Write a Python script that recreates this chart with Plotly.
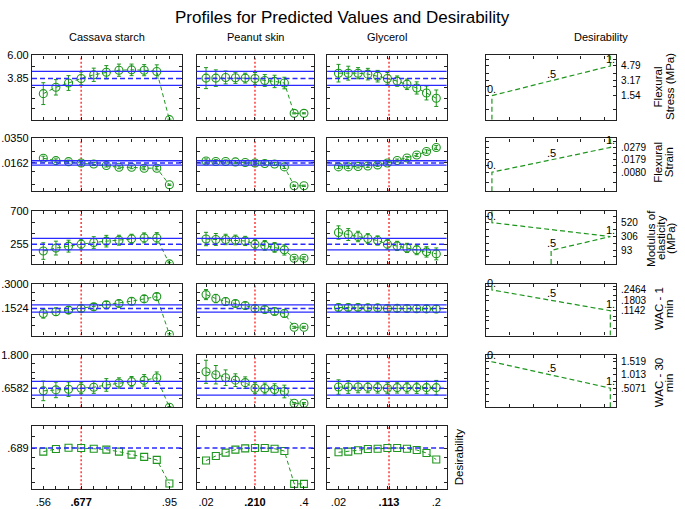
import plotly.graph_objects as go

W, H = 685, 509

# ---------------- data ----------------
factor_names = ["Cassava starch", "Peanut skin", "Glycerol"]
current = [0.677, 0.210, 0.113]
current_text = [".677", ".210", ".113"]
cassava_x = [0.56, 0.599, 0.638, 0.677, 0.716, 0.755, 0.794, 0.833, 0.872, 0.911, 0.95]
peanut_x = [0.02, 0.058, 0.096, 0.134, 0.172, 0.21, 0.248, 0.286, 0.324, 0.362, 0.40]
glycerol_x = [0.02, 0.038, 0.056, 0.074, 0.092, 0.11, 0.128, 0.146, 0.164, 0.182, 0.20]
xgrid = [cassava_x, peanut_x, glycerol_x]
x_lo_text = [".56", ".02", ".02"]
x_hi_text = [".95", ".4", ".2"]

# Flexural stress (MPa)
fs_cassava = [2.43, 3.02, 3.42, 3.85, 4.19, 4.43, 4.62, 4.65, 4.62, 4.50, 0.0]
fs_cassava_err = [1.02, 0.72, 0.69, 0.60, 0.62, 0.62, 0.57, 0.54, 0.52, 0.62, 0.05]
fs_peanut = [3.88, 3.88, 3.94, 3.91, 3.88, 3.85, 3.66, 3.57, 3.42, 0.59, 0.59]
fs_peanut_err = [0.98, 0.77, 0.60, 0.52, 0.46, 0.55, 0.55, 0.58, 0.54, 0.05, 0.05]
fs_glycerol = [4.34, 4.34, 4.34, 4.25, 4.06, 3.85, 3.60, 3.30, 2.96, 2.49, 2.00]
fs_glycerol_err = [0.82, 0.65, 0.52, 0.54, 0.54, 0.55, 0.48, 0.49, 0.57, 0.65, 0.77]

# Flexural strain
st_cassava = [0.0198, 0.0180, 0.0172, 0.0162, 0.0154, 0.0142, 0.0129, 0.0129, 0.0122, 0.0122, -0.0005]
st_cassava_err = [0.0016, 0.0013, 0.0012, 0.0011, 0.0011, 0.0011, 0.0011, 0.0011, 0.0012, 0.0013, 0.0005]
st_peanut = [0.0177, 0.0173, 0.0173, 0.0170, 0.0166, 0.0162, 0.0158, 0.0154, 0.0132, -0.0013, -0.0013]
st_peanut_err = [0.0016, 0.0014, 0.0012, 0.0011, 0.0011, 0.0011, 0.0011, 0.0011, 0.0012, 0.0005, 0.0005]
st_glycerol = [0.0132, 0.0132, 0.0135, 0.0139, 0.0147, 0.0162, 0.0181, 0.0200, 0.0223, 0.0250, 0.0280]
st_glycerol_err = [0.0013, 0.0012, 0.0011, 0.0011, 0.0011, 0.0011, 0.0011, 0.0011, 0.0012, 0.0013, 0.0015]

# Modulus of elasticity (MPa)
me_cassava = [162, 202, 228, 255, 277, 295, 308, 326, 339, 339, -10]
me_cassava_err = [111, 93, 80, 67, 78, 78, 67, 62, 67, 71, 15]
me_peanut = [324, 318, 318, 311, 298, 255, 238, 211, 178, 65, 65]
me_peanut_err = [90, 80, 70, 65, 62, 67, 65, 65, 70, 20, 20]
me_glycerol = [411, 384, 358, 331, 304, 255, 231, 204, 178, 151, 124]
me_glycerol_err = [90, 80, 70, 65, 62, 67, 62, 62, 65, 70, 80]

# WAC - 1 min
w1_cassava = [0.1229, 0.1327, 0.1426, 0.1524, 0.1622, 0.1741, 0.1819, 0.1957, 0.2095, 0.2232, -0.003]
w1_cassava_err = [0.028, 0.022, 0.020, 0.020, 0.020, 0.020, 0.020, 0.020, 0.020, 0.021, 0.005]
w1_peanut = [0.235, 0.2114, 0.1937, 0.1819, 0.170, 0.1524, 0.1465, 0.1347, 0.1229, 0.0402, 0.0402]
w1_peanut_err = [0.030, 0.025, 0.022, 0.020, 0.020, 0.020, 0.020, 0.020, 0.022, 0.006, 0.006]
w1_glycerol = [0.158, 0.158, 0.158, 0.157, 0.156, 0.1524, 0.153, 0.152, 0.151, 0.150, 0.149]
w1_glycerol_err = [0.021, 0.020, 0.020, 0.020, 0.020, 0.020, 0.020, 0.020, 0.020, 0.020, 0.021]

# WAC - 30 min
w30_cassava = [0.567, 0.601, 0.624, 0.658, 0.692, 0.772, 0.840, 0.886, 0.932, 1.023, -0.003]
w30_cassava_err = [0.34, 0.27, 0.25, 0.19, 0.21, 0.22, 0.18, 0.18, 0.20, 0.20, 0.03]
w30_peanut = [1.229, 1.127, 1.024, 0.939, 0.853, 0.658, 0.648, 0.614, 0.545, 0.135, 0.135]
w30_peanut_err = [0.40, 0.32, 0.27, 0.22, 0.20, 0.19, 0.19, 0.20, 0.22, 0.03, 0.03]
w30_glycerol = [0.70, 0.70, 0.70, 0.69, 0.68, 0.658, 0.68, 0.68, 0.68, 0.68, 0.68]
w30_glycerol_err = [0.25, 0.22, 0.20, 0.19, 0.19, 0.19, 0.19, 0.19, 0.20, 0.22, 0.25]

# Desirability
d_cassava = [0.638, 0.675, 0.693, 0.689, 0.679, 0.666, 0.638, 0.596, 0.564, 0.522, 0.187]
d_peanut = [0.512, 0.577, 0.624, 0.666, 0.684, 0.689, 0.689, 0.679, 0.647, 0.183, 0.183]
d_glycerol = [0.629, 0.638, 0.657, 0.675, 0.679, 0.689, 0.689, 0.679, 0.661, 0.619, 0.526]

profiles = [
    [fs_cassava, fs_peanut, fs_glycerol],
    [st_cassava, st_peanut, st_glycerol],
    [me_cassava, me_peanut, me_glycerol],
    [w1_cassava, w1_peanut, w1_glycerol],
    [w30_cassava, w30_peanut, w30_glycerol],
    [d_cassava, d_peanut, d_glycerol],
]
profile_err = [
    [fs_cassava_err, fs_peanut_err, fs_glycerol_err],
    [st_cassava_err, st_peanut_err, st_glycerol_err],
    [me_cassava_err, me_peanut_err, me_glycerol_err],
    [w1_cassava_err, w1_peanut_err, w1_glycerol_err],
    [w30_cassava_err, w30_peanut_err, w30_glycerol_err],
    None,
]

pred = [3.85, 0.0162, 255, 0.1524, 0.6582, 0.689]
pred_text = ["3.85", ".0162", "255", ".1524", ".6582", ".689"]
ci_half = [0.65, 0.0017, 78, 0.022, 0.24]
top_val = [6.0, 0.035, 700, 0.300, 1.8]
top_text = ["6.00", ".0350", "700", ".3000", "1.800"]
minor_y = [[1, 2, 3, 5], [0.0, 0.01, 0.025], [100, 400, 550], [0.05, 0.1, 0.2, 0.25], [0.3, 1.0, 1.2, 1.5],
           [0.2, 0.4, 0.55, 0.85]]

# desirability functions (response value -> desirability)
des_vals = [[1.54, 3.17, 4.79], [0.0080, 0.0179, 0.0279], [520, 306, 93],
            [0.2464, 0.1803, 0.1142], [1.519, 1.013, 0.5071]]
des_text = [["1.54", "3.17", "4.79"], [".0080", ".0179", ".0279"], ["520", "306", "93"],
            [".2464", ".1803", ".1142"], ["1.519", "1.013", ".5071"]]
des_d = [[0, 0.5, 1], [0, 0.5, 1], [0, 1, 0.5], [0, 0.5, 1], [0, 0.5, 1]]
des_minor = [[0, 2.5, 4.0, 5.5], [0.0, 0.013, 0.023, 0.033], [0, 200, 420, 620],
             [0.0, 0.05, 0.08, 0.21, 0.27], [0.0, 0.25, 0.75, 1.27, 1.65]]

resp_lines = [["Flexural", "Stress (MPa)"], ["Flexural", "Strain"], ["Modulus of", "elasticity", "(MPa)"],
              ["WAC - 1", "min"], ["WAC - 30", "min"], ["Desirability"]]

# ---------------- layout geometry (pixels) ----------------
col_px = [(32, 182), (196.5, 314), (327.1, 446.6)]
des_px = (486, 616)
row_px = [(50, 115), (134, 187.5), (207.5, 261), (281, 333.5), (353.5, 406), (425, 489)]
xranges = [(0.525, 0.989), (-0.017, 0.439), (-0.001, 0.219)]
yranges = [(0, 6.0), (-0.0055, 0.035), (-11, 700), (-0.009, 0.300), (0, 1.8), (0.107, 1.0)]
des_xrange = (-0.05, 1.048)
des_yranges = [(-1.09, 5.95), (-0.0073, 0.0351), (-115, 698), (-0.044, 0.286), (-0.224, 1.765)]
resp_label_px = [([657.7, 669.3], 81.7), ([657.7, 669.0], 158), ([651.7, 661.7, 671.7], 235),
                 ([659, 669], 306.7), ([659, 669], 381.7), ([459], 456.7)]


def xd(a, b):
    return [a / W, b / W]


def yd(t, b):
    return [1 - b / H, 1 - t / H]


GREEN = "#1e961e"
BLUE = "#2a2aff"
RED = "#ff1a1a"
FONT = "Liberation Sans, Arial, sans-serif"

fig = go.Figure()
layout = {}
shapes = []
annotations = []

axis_common = dict(showline=True, linecolor="#222222", linewidth=1.2, mirror="allticks",
                   ticks="inside", ticklen=3, tickcolor="#222222", tickwidth=1,
                   showgrid=False, zeroline=False, fixedrange=True,
                   tickfont=dict(family=FONT, size=11, color="black"))

k = 0
for r in range(6):
    for c in range(3):
        k += 1
        xa = "x" if k == 1 else f"x{k}"
        ya = "y" if k == 1 else f"y{k}"
        xg = xgrid[c]
        xt, xtt = [], []
        for i, v in enumerate(xg):
            if abs(v - current[c]) < 1e-6:
                continue
            xt.append(v)
            lab = ""
            if r == 5 and i == 0:
                lab = x_lo_text[c]
            elif r == 5 and i == len(xg) - 1:
                lab = x_hi_text[c]
            xtt.append(lab)
        xt.append(current[c])
        xtt.append(f"<b>{current_text[c]}</b>" if r == 5 else "")
        layout[f"xaxis{k}"] = dict(axis_common, domain=xd(*col_px[c]), range=list(xranges[c]),
                                   anchor=ya, tickmode="array", tickvals=xt, ticktext=xtt,
                                   showticklabels=(r == 5), ticklabelstandoff=2)
        yt = list(minor_y[r]) + [pred[r]]
        ytt = [""] * len(minor_y[r]) + [pred_text[r]]
        if r < 5:
            yt.append(top_val[r])
            ytt.append(top_text[r])
        layout[f"yaxis{k}"] = dict(axis_common, domain=yd(*row_px[r]), range=list(yranges[r]),
                                   anchor=xa, tickmode="array", tickvals=yt, ticktext=ytt,
                                   showticklabels=(c == 0))
        xdom = f"{xa} domain"
        if r < 5:
            for v in (pred[r] - ci_half[r], pred[r] + ci_half[r]):
                shapes.append(dict(type="line", xref=xdom, yref=ya, x0=0, x1=1, y0=v, y1=v,
                                   line=dict(color=BLUE, width=1.3)))
        shapes.append(dict(type="line", xref=xdom, yref=ya, x0=0, x1=1, y0=pred[r], y1=pred[r],
                           line=dict(color=BLUE, width=1.5, dash="5px,3px")))
        # red current-value line as a trace
        fig.add_trace(go.Scatter(x=[current[c], current[c]], y=list(yranges[r]), xaxis=xa, yaxis=ya,
                                 mode="lines", line=dict(color=RED, width=1.3, dash="2px,2px"),
                                 showlegend=False, hoverinfo="skip"))
        err = profile_err[r]
        tr = dict(x=xg, y=profiles[r][c], xaxis=xa, yaxis=ya, mode="lines+markers",
                  line=dict(color=GREEN, width=1, dash="4px,3px"),
                  marker=dict(symbol="square-open" if r == 5 else "circle-open", size=7 if r == 5 else 8,
                              color=GREEN, line=dict(width=1.1, color=GREEN)),
                  showlegend=False, hoverinfo="skip")
        if err is not None:
            tr["error_y"] = dict(type="data", array=err[c], visible=True, color=GREEN,
                                 thickness=1, width=2)
        fig.add_trace(go.Scatter(**tr))

# desirability panels
for r in range(5):
    k += 1
    xa = f"x{k}"
    ya = f"y{k}"
    lo, hi = des_yranges[r]
    yt = list(des_minor[r]) + list(des_vals[r])
    ytt = [""] * len(des_minor[r]) + list(des_text[r])
    layout[f"xaxis{k}"] = dict(axis_common, domain=xd(*des_px), range=list(des_xrange), anchor=ya,
                               tickmode="linear", tick0=0.15, dtick=0.2, showticklabels=False)
    layout[f"yaxis{k}"] = dict(axis_common, domain=yd(*row_px[r]), range=[lo, hi], anchor=xa,
                               side="right", tickmode="array", tickvals=yt, ticktext=ytt,
                               showticklabels=True, ticklabelstandoff=2,
                               tickfont=dict(family=FONT, size=10, color="black"))
    pts = sorted(zip(des_vals[r], des_d[r]))
    ys = [lo] + [p[0] for p in pts] + [hi]
    ds = [pts[0][1]] + [p[1] for p in pts] + [pts[-1][1]]
    fig.add_trace(go.Scatter(x=ds, y=ys, xaxis=xa, yaxis=ya, mode="lines",
                             line=dict(color=GREEN, width=1.2, dash="5px,3px"),
                             showlegend=False, hoverinfo="skip"))
    for v, d in zip(des_vals[r], des_d[r]):
        txt = "0." if d == 0 else ("1." if d == 1 else ".5")
        annotations.append(dict(x=d, y=v, xref=xa, yref=ya, text=txt, showarrow=False,
                                xanchor="center", yanchor="middle", yshift=7,
                                font=dict(family=FONT, size=11, color="black")))

# titles
annotations.append(dict(x=342 / W, y=1 - 12 / H, xref="paper", yref="paper",
                        text="Profiles for Predicted Values and Desirability", showarrow=False,
                        xanchor="center", yanchor="middle", font=dict(family=FONT, size=17, color="black")))
header_px = [107, 255, 387, 601]
for name, xp in zip(factor_names + ["Desirability"], header_px):
    annotations.append(dict(x=xp / W, y=1 - 31 / H, xref="paper", yref="paper", text=name,
                            showarrow=False, xanchor="center", yanchor="middle",
                            font=dict(family=FONT, size=11, color="black")))
for lines, (xs, yc) in zip(resp_lines, resp_label_px):
    for t, xp in zip(lines, xs):
        annotations.append(dict(x=xp / W, y=1 - yc / H, xref="paper", yref="paper", text=t,
                                showarrow=False, textangle=-90, xanchor="center", yanchor="middle",
                                font=dict(family=FONT, size=11.5, color="black")))

fig.update_layout(width=W, height=H, margin=dict(l=0, r=0, t=0, b=0), paper_bgcolor="white",
                  plot_bgcolor="white", shapes=shapes, annotations=annotations,
                  font=dict(family=FONT, size=11, color="black"), **layout)
fig.write_html("out.html", config={"displayModeBar": False},
               post_script="document.body.style.margin='0px';document.body.style.overflow='hidden';")
